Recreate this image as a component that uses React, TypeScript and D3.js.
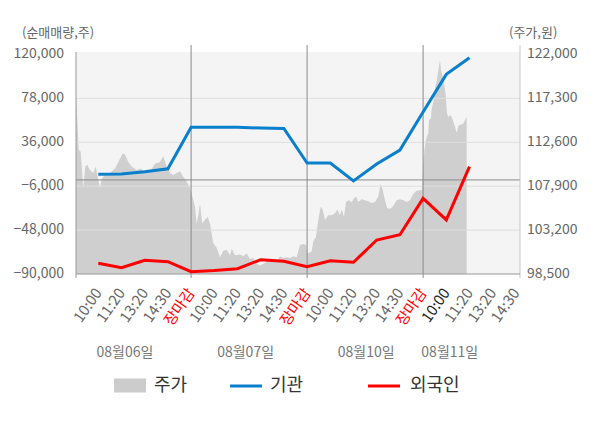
import React from "react";
import * as d3 from "d3";

// x-axis tick labels (slot index 0..18)
const tickLabels = [
  "10:00", "11:20", "13:20", "14:30", "장마감",
  "10:00", "11:20", "13:20", "14:30", "장마감",
  "10:00", "11:20", "13:20", "14:30", "장마감",
  "10:00", "11:20", "13:20", "14:30",
];
const dayLabels = ["08월06일", "08월07일", "08월10일", "08월11일"];
const dayLabelSlots = [1.15, 6.35, 11.55, 15.15];
const dayBreaks = [4, 9, 14];

const leftTicks = [120000, 78000, 36000, -6000, -48000, -90000];
const rightTicks = [122000, 117300, 112600, 107900, 103200, 98500];

// 기관 / 외국인 net volume (shares) at slot 0..16
const institution = [5400, 5700, 7900, 10700, 50300, 50300, 50300, 49600, 49200, 16200, 16200, -1000, 15200, 28600, 65000, 101000, 116900];
const foreign = [-79800, -84000, -76900, -78200, -87800, -86700, -84900, -76300, -77900, -83000, -77300, -78800, -57500, -52400, -17600, -38300, 12700];

// price (won) traced in slot units
const priceT = [
  -0.961, -0.905, -0.845, -0.759, -0.647, -0.56, -0.474, -0.358, -0.216, -0.112, -0.026, 0.073, 0.147, 0.289, 0.504, 0.72, 0.862, 1.052, 1.151, 1.293, 1.44, 1.655, 1.797, 2.013, 2.228, 2.444, 2.659, 2.802, 2.948, 3.091, 3.233, 3.379, 3.522, 3.664, 3.81, 3.953,
  4.026, 4.168, 4.241, 4.31, 4.384, 4.483, 4.599, 4.716, 4.815, 4.957, 5.103, 5.246, 5.388, 5.534, 5.677, 5.75, 5.892, 6.108, 6.25, 6.397, 6.539, 6.681, 6.828, 6.97, 7.112, 7.259, 7.401, 7.543, 7.69, 7.832, 7.974, 8.121, 8.263, 8.405, 8.552, 8.694, 8.836, 8.966,
  9.017, 9.198, 9.267, 9.384, 9.483, 9.586, 9.672, 9.772, 9.914, 10.06, 10.203, 10.302, 10.418, 10.491, 10.591, 10.677, 10.776, 10.922, 11.022, 11.108, 11.207, 11.353, 11.496, 11.638, 11.784, 11.927, 12.069, 12.172, 12.259, 12.358, 12.457, 12.603, 12.716, 12.862, 13.004, 13.147, 13.293, 13.435, 13.578, 13.724, 13.94,
  14.009, 14.052, 14.112, 14.155, 14.224, 14.254, 14.341, 14.371, 14.44, 14.513, 14.586, 14.655, 14.728, 14.772, 14.828, 14.914, 14.974, 15.03, 15.086, 15.159, 15.233, 15.302, 15.375, 15.448, 15.517, 15.591, 15.664, 15.733, 15.806, 15.879,
];
const price = [
  117900, 115000, 111800, 111600, 107700, 110000, 110200, 109600, 109300, 110000, 108900, 107700, 108700, 109100, 109300, 109800, 110500, 111400, 111300, 110500, 110000, 109600, 109800, 109500, 109500, 110300, 110500, 111100, 110000, 109300, 109100, 109300, 109500, 108900, 108400, 107700,
  107100, 105700, 103900, 104800, 106000, 103900, 104300, 104600, 103900, 101800, 101300, 100300, 101000, 101100, 100500, 101200, 100500, 100600, 100400, 100700, 100100, 100200, 99600, 99400, 99600, 99800, 100000, 100100, 99800, 100400, 100200, 100300, 100200, 100400, 100300, 101600, 101700, 101600,
  100700, 100900, 102000, 102500, 104300, 105700, 105400, 104300, 104800, 104800, 105000, 105400, 104800, 105400, 104600, 106200, 106400, 106200, 106600, 106800, 106200, 106500, 106400, 106300, 106100, 106200, 106800, 108200, 107500, 106400, 105500, 105500, 105800, 106400, 106500, 106400, 106200, 106400, 107100, 107400, 107500,
  110500, 111600, 112700, 113200, 113600, 115000, 115200, 116200, 116900, 118400, 119100, 120300, 121400, 120300, 119800, 118700, 117700, 115700, 115300, 115500, 115300, 114800, 114300, 113600, 114300, 114500, 114500, 114600, 115000, 115400,
];

const W = 600;
const H = 428;
const L = 76;
const R = 520;
const T = 52;
const B = 274;
const FONT = "'Noto Sans CJK KR', 'Noto Sans', sans-serif";

export default function App() {
  const x = d3.scaleLinear().domain([-0.961, 18.177]).range([L, R]);
  const yL = d3.scaleLinear().domain([-90000, 120000]).range([B, 54.5]);
  const yR = d3.scaleLinear().domain([98500, 122000]).range([B, 54.5]);

  const pts = priceT.map((t, i) => [t, price[i]] as [number, number]);
  const area = d3
    .area<[number, number]>()
    .x((d) => x(d[0]))
    .y0(B)
    .y1((d) => yR(d[1]))(pts) as string;

  const line = d3
    .line<number>()
    .x((_, i) => x(i))
    .y((d) => yL(d));

  return (
    <svg
      width={W}
      height={H}
      style={{ position: "absolute", left: 0, top: 0, background: "#fff" }}
      fontFamily={FONT}
    >
      <rect x={L} y={T} width={R - L} height={B - T} fill="#f4f4f4" />
      <path d={area} fill="#cfcfcf" />
      {leftTicks.slice(1, 5).map((v) => (
        <line key={v} x1={L} x2={R} y1={yL(v)} y2={yL(v)} stroke="#dedede" strokeWidth={1} />
      ))}
      <line x1={L} x2={R} y1={yL(0)} y2={yL(0)} stroke="#8a8a8a" strokeWidth={1} />
      {dayBreaks.map((b) => (
        <line key={b} x1={x(b)} x2={x(b)} y1={45} y2={B + 4} stroke="#8a8a8a" strokeWidth={1} />
      ))}
      <line x1={L} x2={L} y1={T} y2={B + 4} stroke="#999" strokeWidth={1} />
      <line x1={R} x2={R} y1={45} y2={B + 4} stroke="#c8c8c8" strokeWidth={1} />
      <line x1={L} x2={R} y1={B} y2={B} stroke="#999" strokeWidth={1} />

      <path d={line(institution) as string} fill="none" stroke="#0a7fcc" strokeWidth={3} />
      <path d={line(foreign) as string} fill="none" stroke="#ff0000" strokeWidth={3} />

      <text x={22} y={33} fontSize={13} fill="#666" dominantBaseline="middle">
        (순매매량,주)
      </text>
      <text x={509} y={33} fontSize={13} fill="#666" dominantBaseline="middle">
        (주가,원)
      </text>

      {leftTicks.map((v) => (
        <text key={v} x={64} y={yL(v)} fontSize={14} fill="#666" textAnchor="end" dominantBaseline="middle">
          {d3.format(",")(v)}
        </text>
      ))}
      {rightTicks.map((v) => (
        <text key={v} x={527} y={yR(v)} fontSize={14} fill="#666" dominantBaseline="middle">
          {d3.format(",")(v)}
        </text>
      ))}

      {tickLabels.map((lab, i) => (
        <text
          key={i}
          transform={`translate(${x(i) + 1},${290.5}) rotate(-55)`}
          fontSize={15}
          textAnchor="end"
          dominantBaseline="middle"
          fill={lab === "장마감" ? "#ff0000" : i === 15 ? "#222" : "#666"}
        >
          {lab}
        </text>
      ))}

      {dayLabels.map((lab, i) => (
        <text key={lab} x={x(dayLabelSlots[i])} y={353} fontSize={14} fill="#777" textAnchor="middle" dominantBaseline="middle">
          {lab}
        </text>
      ))}

      <rect x={114} y={378.5} width={32} height={14} fill="#cccccc" />
      <text x={154} y={386} fontSize={18} fill="#333" dominantBaseline="middle">주가</text>
      <line x1={230} x2={262} y1={386} y2={386} stroke="#0a7fcc" strokeWidth={3} />
      <text x={270} y={386} fontSize={18} fill="#333" dominantBaseline="middle">기관</text>
      <line x1={368} x2={400} y1={386} y2={386} stroke="#ff0000" strokeWidth={3} />
      <text x={410} y={386} fontSize={18} fill="#333" dominantBaseline="middle">외국인</text>
    </svg>
  );
}
